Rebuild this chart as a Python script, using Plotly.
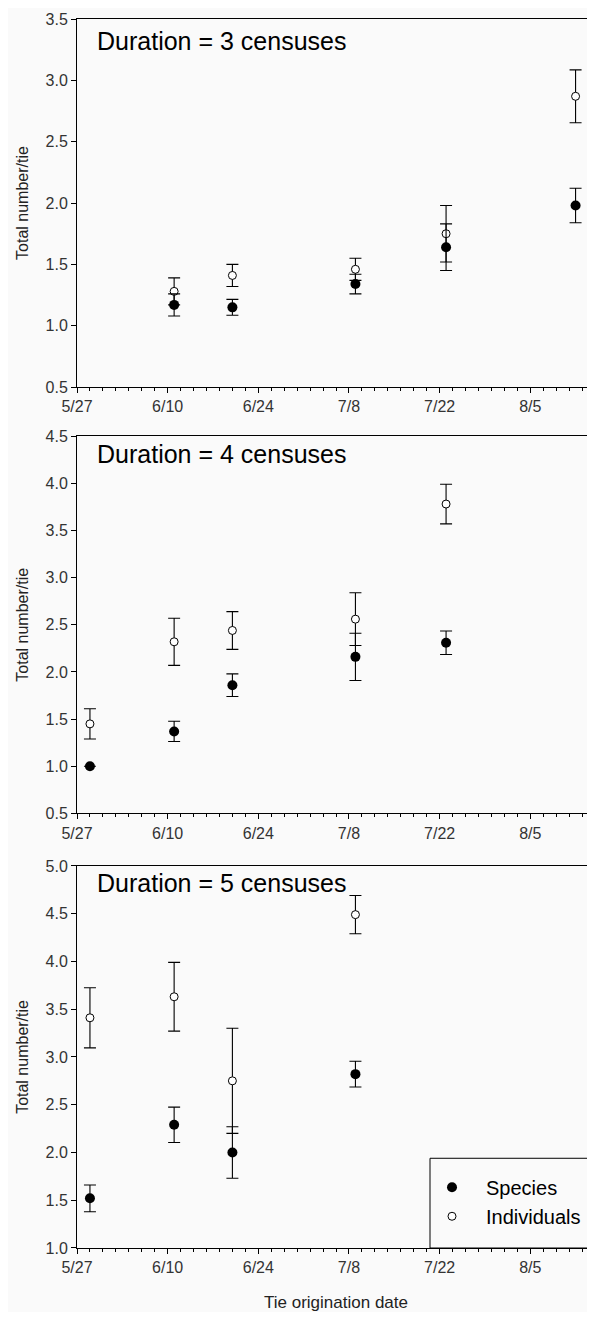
import plotly.graph_objects as go

# ---------------- data ----------------
dates_3 = ["2000-06-11", "2000-06-20", "2000-07-09", "2000-07-23", "2000-08-12"]
species_3 = [1.17, 1.15, 1.34, 1.64, 1.98]
species_3_se = [0.09, 0.065, 0.08, 0.19, 0.14]
indiv_3 = [1.28, 1.41, 1.46, 1.75, 2.87]
indiv_3_se = [0.11, 0.09, 0.09, 0.23, 0.215]

dates_4 = ["2000-05-29", "2000-06-11", "2000-06-20", "2000-07-09", "2000-07-23"]
species_4 = [1.00, 1.37, 1.86, 2.16, 2.31]
species_4_se = [None, 0.107, 0.12, 0.25, 0.125]
indiv_4 = [1.45, 2.32, 2.44, 2.56, 3.78]
indiv_4_se = [0.16, 0.25, 0.20, 0.28, 0.21]

dates_5 = ["2000-05-29", "2000-06-11", "2000-06-20", "2000-07-09"]
species_5 = [1.52, 2.29, 2.00, 2.82]
species_5_se = [0.14, 0.185, 0.27, 0.135]
indiv_5 = [3.41, 3.63, 2.75, 4.49]
indiv_5_se = [0.315, 0.36, 0.55, 0.20]

panel_titles = ["Duration = 3 censuses", "Duration = 4 censuses", "Duration = 5 censuses"]
y_ranges = [[0.5, 3.5], [0.5, 4.5], [1.0, 5.0]]
x_range = ["2000-05-27", "2000-08-15"]
x_tick0 = "2000-05-27"
y_title = "Total number/tie"
x_title = "Tie origination date"

# ---------------- layout geometry ----------------
# The page has an 8px body margin, so the figure is 587 x 1304 and all
# reference pixel positions (page coordinates) are shifted by 8.
OFF = 8
W, H = 587, 1304
TOP_REF = 19          # top of panel 1 (kept a little low so "3.5" is not cut)
ML, MT = 77 - OFF, TOP_REF - OFF
PLOT_BOTTOM = 1247.7 - OFF
MB = H - PLOT_BOTTOM
PW = W - ML
PH = PLOT_BOTTOM - MT

FONT = "Liberation Sans, Arial, Helvetica, sans-serif"
BG = "#fafafa"
DAY = 86400000


def py(ref_y):
    """reference page y pixel -> paper fraction"""
    return 1 - (ref_y - OFF - MT) / PH


def px(ref_x):
    """reference page x pixel -> paper fraction"""
    return (ref_x - OFF - ML) / PW


y_domains = [[py(387), 1.0], [py(813.3), py(436)], [0.0, py(865.7)]]
title_y_ref = [41, 454, 883]

panels = [
    (dates_3, species_3, species_3_se, indiv_3, indiv_3_se),
    (dates_4, species_4, species_4_se, indiv_4, indiv_4_se),
    (dates_5, species_5, species_5_se, indiv_5, indiv_5_se),
]

fig = go.Figure()
for i, (d, sp, sp_se, ind, ind_se) in enumerate(panels):
    xa = "x" if i == 0 else f"x{i+1}"
    ya = "y" if i == 0 else f"y{i+1}"
    last = i == 2
    fig.add_trace(go.Scatter(
        x=d, y=ind, mode="markers", name="Individuals",
        xaxis=xa, yaxis=ya, showlegend=last, legendrank=2,
        marker=dict(symbol="circle", size=8, color="white",
                    line=dict(color="black", width=1)),
        error_y=dict(type="data", array=ind_se, visible=True,
                     color="black", thickness=1.1, width=6),
    ))
    fig.add_trace(go.Scatter(
        x=d, y=sp, mode="markers", name="Species",
        xaxis=xa, yaxis=ya, showlegend=last, legendrank=1,
        marker=dict(symbol="circle", size=10, color="black",
                    line=dict(color="black", width=0)),
        error_y=dict(type="data", array=sp_se, visible=True,
                     color="black", thickness=1.1, width=6),
    ))

layout = dict(
    width=W, height=H,
    margin=dict(l=ML, r=0, t=MT, b=MB, pad=0, autoexpand=False),
    paper_bgcolor=BG, plot_bgcolor=BG,
    font=dict(family=FONT, color="black"),
    legend=dict(
        x=px(418), y=py(1167.5), xanchor="left", yanchor="top",
        bgcolor="rgba(0,0,0,0)", borderwidth=0,
        font=dict(size=20, family=FONT, color="black"),
        itemwidth=58, tracegroupgap=0,
    ),
    shapes=[dict(type="rect", xref="paper", yref="paper",
                 x0=px(430), x1=1.05, y0=0, y1=py(1158),
                 line=dict(color="black", width=1), layer="above")],
    annotations=[],
)

for i in range(3):
    xk = "xaxis" if i == 0 else f"xaxis{i+1}"
    yk = "yaxis" if i == 0 else f"yaxis{i+1}"
    ya = "y" if i == 0 else f"y{i+1}"
    xa = "x" if i == 0 else f"x{i+1}"
    layout[xk] = dict(
        type="date", domain=[0, 1], anchor=ya, range=x_range,
        tick0=x_tick0, dtick=14 * DAY, tickformat="%-m/%-d",
        ticks="outside", ticklen=5, tickwidth=1, tickcolor="black",
        showline=True, linecolor="black", linewidth=1, mirror=True,
        showgrid=False, zeroline=False, automargin=False,
        ticklabeloverflow="allow",
        tickfont=dict(size=16, family=FONT, color="#333333"),
        minor=dict(tick0=x_tick0, dtick=2 * DAY, ticks="outside", ticklen=3,
                   tickwidth=1, tickcolor="black", showgrid=False),
        title=dict(text=x_title if i == 2 else "",
                   font=dict(size=17, family=FONT, color="#222222"), standoff=31),
    )
    layout[yk] = dict(
        domain=y_domains[i], anchor=xa, range=y_ranges[i],
        tick0=0, dtick=0.5, tickformat=".1f",
        ticks="outside", ticklen=5, tickwidth=1, tickcolor="black",
        showline=True, linecolor="black", linewidth=1,
        showgrid=False, zeroline=False, automargin=False,
        ticklabeloverflow="allow",
        tickfont=dict(size=16, family=FONT, color="#333333"),
        title=dict(text=y_title, font=dict(size=16, family=FONT, color="#222222"),
                   standoff=12),
    )
    layout["annotations"].append(dict(
        text=panel_titles[i], xref="paper", yref="paper",
        x=px(95), y=py(title_y_ref[i]), xanchor="left", yanchor="middle",
        showarrow=False, font=dict(size=25, family=FONT, color="black"),
    ))

fig.update_layout(**layout)
fig.write_html("out.html")
